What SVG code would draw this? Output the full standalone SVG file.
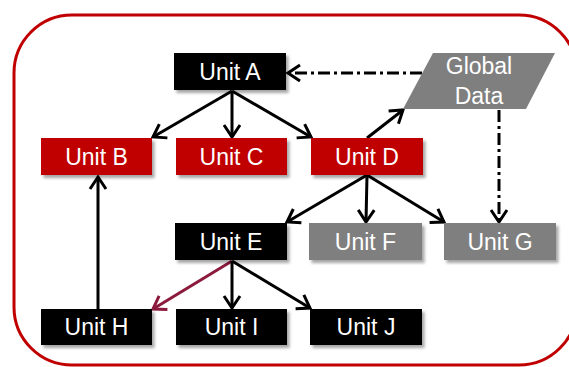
<svg xmlns="http://www.w3.org/2000/svg" width="569" height="367" viewBox="0 0 569 367">
<style>
.lbl{font-family:"Liberation Sans",Arial,sans-serif;font-size:23px;fill:#fff;text-anchor:middle}
.blk{fill:#000}
.red{fill:#C00000}
.gry{fill:#7F7F7F}
.c{fill:none;stroke:#000;stroke-width:3}
.dd{stroke-dasharray:12 4 3 4}
</style>
<defs>
<filter id="sh" x="-10%" y="-20%" width="130%" height="160%">
<feDropShadow dx="2.5" dy="3" stdDeviation="1.5" flood-color="#000" flood-opacity="0.35"/>
</filter>
<marker id="ah" markerUnits="userSpaceOnUse" viewBox="-16 -10 18 20" markerWidth="18" markerHeight="20" refX="0" refY="0" orient="auto">
<path d="M-12,-8 L0,0 L-12,8" fill="none" stroke="#000" stroke-width="3"/>
</marker>
<marker id="ahm" markerUnits="userSpaceOnUse" viewBox="-16 -10 18 20" markerWidth="18" markerHeight="20" refX="0" refY="0" orient="auto">
<path d="M-12,-8 L0,0 L-12,8" fill="none" stroke="#8B1A3C" stroke-width="3"/>
</marker>
</defs>
<rect x="14" y="15" width="563" height="350" rx="58" ry="58" fill="none" stroke="#C00000" stroke-width="3"/>
<g id="connectors">
<line class="c" x1="232" y1="91" x2="153" y2="137" marker-end="url(#ah)"/>
<line class="c" x1="232" y1="91" x2="232" y2="137" marker-end="url(#ah)"/>
<line class="c" x1="232" y1="91" x2="311" y2="137" marker-end="url(#ah)"/>
<line class="c" x1="367" y1="138" x2="403" y2="110" marker-end="url(#ah)"/>
<line class="c dd" x1="422" y1="73" x2="288" y2="73" marker-end="url(#ah)"/>
<line class="c dd" x1="499" y1="110" x2="499" y2="222" marker-end="url(#ah)"/>
<line class="c" x1="367" y1="175" x2="287" y2="222" marker-end="url(#ah)"/>
<line class="c" x1="367" y1="175" x2="366" y2="222" marker-end="url(#ah)"/>
<line class="c" x1="367" y1="175" x2="444" y2="222" marker-end="url(#ah)"/>
<line class="c" x1="232" y1="261" x2="153" y2="309" style="stroke:#8B1A3C" marker-end="url(#ahm)"/>
<line class="c" x1="232" y1="261" x2="232" y2="308" marker-end="url(#ah)"/>
<line class="c" x1="232" y1="261" x2="310" y2="308" marker-end="url(#ah)"/>
<line class="c" x1="98" y1="309" x2="98" y2="177" marker-end="url(#ah)"/>
</g>
<g id="unitA"><rect class="blk" x="174" y="53" width="112" height="37" filter="url(#sh)"/><text class="lbl" x="230" y="80">Unit A</text></g>
<g id="unitB"><rect class="red" x="41" y="138" width="111" height="37" filter="url(#sh)"/><text class="lbl" x="96.5" y="165">Unit B</text></g>
<g id="unitC"><rect class="red" x="176" y="138" width="111" height="37" filter="url(#sh)"/><text class="lbl" x="231.5" y="165">Unit C</text></g>
<g id="unitD"><rect class="red" x="311" y="138" width="112" height="37" filter="url(#sh)"/><text class="lbl" x="367" y="165">Unit D</text></g>
<g id="globalData"><polygon class="gry" points="433,53 555,53 526,109 403,109"/><text class="lbl" x="479" y="74">Global</text><text class="lbl" x="479" y="104">Data</text></g>
<g id="unitE"><rect class="blk" x="175" y="223" width="112" height="37" filter="url(#sh)"/><text class="lbl" x="231" y="250">Unit E</text></g>
<g id="unitF"><rect class="gry" x="309" y="223" width="113" height="37" filter="url(#sh)"/><text class="lbl" x="365.5" y="250">Unit F</text></g>
<g id="unitG"><rect class="gry" x="444" y="223" width="112" height="37" filter="url(#sh)"/><text class="lbl" x="500" y="250">Unit G</text></g>
<g id="unitH"><rect class="blk" x="41" y="309" width="111" height="36" filter="url(#sh)"/><text class="lbl" x="96.5" y="335">Unit H</text></g>
<g id="unitI"><rect class="blk" x="176" y="309" width="111" height="36" filter="url(#sh)"/><text class="lbl" x="231.5" y="335">Unit I</text></g>
<g id="unitJ"><rect class="blk" x="310" y="309" width="112" height="36" filter="url(#sh)"/><text class="lbl" x="366" y="335">Unit J</text></g>
</svg>
